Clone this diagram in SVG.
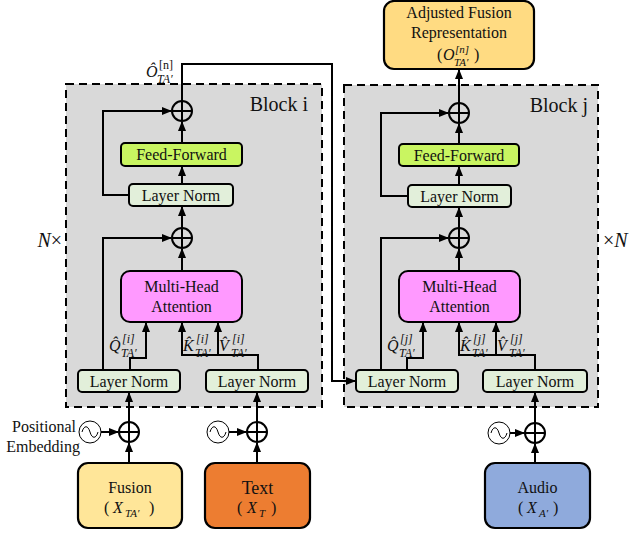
<svg xmlns="http://www.w3.org/2000/svg" width="634" height="535" viewBox="0 0 634 535" font-family="'Liberation Serif', 'DejaVu Serif', serif">
<defs>
<marker id="ah" markerUnits="userSpaceOnUse" markerWidth="10" markerHeight="8" refX="9" refY="4" orient="auto">
<path d="M0,0 L10,4 L0,8 Z" fill="#000"/>
</marker>
<g id="sine"><circle cx="0" cy="0" r="11" fill="#fff" stroke="#000" stroke-width="1"/><path d="M-8,0 C-6,-7 -2,-7 0,0 C2,7 6,7 8,0" fill="none" stroke="#000" stroke-width="1"/></g>
<g id="plus"><circle cx="0" cy="0" r="10" fill="none" stroke="#000" stroke-width="2"/><path d="M-10,0 H10 M0,-10 V10" stroke="#000" stroke-width="2"/></g>
</defs>
<style>
text{font-family:'Liberation Serif','DejaVu Serif',serif;fill:#111;}
.blk{fill:#d9d9d9;stroke:#000;stroke-width:2;stroke-dasharray:8 5;}
.ln{fill:#e2efda;stroke:#000;stroke-width:2;}
.ff{fill:#c9f561;stroke:#000;stroke-width:2;}
.mha{fill:#ff99ff;stroke:#000;stroke-width:2;}
.box{stroke:#000;stroke-width:2.2;}
.c{stroke:#000;stroke-width:2;fill:none;}
.a{marker-end:url(#ah);}
.t14{font-size:16px;text-anchor:middle;}
.t15{font-size:16px;text-anchor:middle;}
.m{font-style:italic;}
</style>

<!-- blocks -->
<g id="blockI"><rect class="blk" x="66" y="84" width="256" height="323"/><text x="308" y="111" font-size="20" text-anchor="end">Block i</text></g>
<g id="blockJ"><rect class="blk" x="344" y="85" width="254" height="322"/><text x="588" y="112" font-size="20" text-anchor="end">Block j</text></g>
<text x="62" y="247" font-size="20" text-anchor="end"><tspan font-style="italic">N</tspan>×</text>
<text x="603" y="247" font-size="20">×<tspan font-style="italic">N</tspan></text>

<!-- connectors -->
<g id="connectors">
<path class="c a" d="M182,184 V167"/>
<path class="c a" d="M182,143 V122"/>
<path class="c a" d="M129,195 H103 V111 H171"/>
<path class="c a" d="M182,271 V249"/>
<path class="c a" d="M182,228 V207"/>
<path class="c a" d="M103,370 V238 H171"/>
<path class="c a" d="M130,370 V358 H146 V323"/>
<path class="c a" d="M258,370 V355 H182 V323"/>
<path class="c a" d="M218,355 V323"/>
<path class="c a" d="M129,463 V443"/>
<path class="c a" d="M129,422 V393"/>
<path class="c a" d="M101,432 H118"/>
<path class="c a" d="M257,463 V443"/>
<path class="c a" d="M257,422 V393"/>
<path class="c a" d="M229,432 H246"/>
<path class="c a" d="M182,101 V64 H332 V381 H355"/>

<path class="c a" d="M459,103 V70"/>
<path class="c a" d="M459,144 V124"/>
<path class="c a" d="M459,185 V167"/>
<path class="c a" d="M408,196 H381 V113 H448"/>
<path class="c a" d="M459,271 V249"/>
<path class="c a" d="M459,228 V208"/>
<path class="c a" d="M381,370 V238 H448"/>
<path class="c a" d="M407,370 V358 H423 V323"/>
<path class="c a" d="M535,370 V355 H459 V323"/>
<path class="c a" d="M496,355 V323"/>
<path class="c a" d="M535,463 V444"/>
<path class="c a" d="M535,423 V393"/>
<path class="c a" d="M510,433 H524"/>
</g>

<!-- block i nodes -->
<g id="addI1"><use href="#plus" x="182" y="111"/></g>
<g id="ffI"><rect class="ff" x="121" y="143" width="121" height="23" rx="4"/><text class="t14" x="181.5" y="160">Feed-Forward</text></g>
<g id="lnI1"><rect class="ln" x="129" y="184" width="104" height="22" rx="4"/><text class="t14" x="181" y="200.5">Layer Norm</text></g>
<g id="addI2"><use href="#plus" x="182" y="238"/></g>
<g id="mhaI"><rect class="mha" x="121" y="271" width="121" height="51" rx="9"/><text class="t15" x="181.5" y="292">Multi-Head</text><text class="t15" x="181.5" y="312">Attention</text></g>
<g id="lnI2"><rect class="ln" x="78" y="370" width="102" height="22" rx="4"/><text class="t14" x="129" y="386.5">Layer Norm</text></g>
<g id="lnI3"><rect class="ln" x="206" y="370" width="102" height="22" rx="4"/><text class="t14" x="257" y="386.5">Layer Norm</text></g>
<g id="labI">
<text x="109" y="351" font-size="16" class="m">Q̂</text><text x="122" y="343" font-size="12" class="m">[i]</text><text x="121" y="357" font-size="12" class="m">TA′</text>
<text x="183" y="351" font-size="16" class="m">K̂</text><text x="196" y="343" font-size="12" class="m">[i]</text><text x="195" y="357" font-size="12" class="m">TA′</text>
<text x="219" y="351" font-size="16" class="m">V̂</text><text x="232" y="343" font-size="12" class="m">[i]</text><text x="231" y="357" font-size="12" class="m">TA′</text>
<text x="146" y="77" font-size="16" class="m">Ô</text><text x="159" y="69" font-size="12">[n]</text><text x="157" y="83" font-size="12" class="m">TA′</text>
</g>

<!-- block j nodes -->
<g id="addJ1"><use href="#plus" x="459" y="113"/></g>
<g id="ffJ"><rect class="ff" x="399" y="144" width="120" height="22" rx="4"/><text class="t14" x="459" y="160.5">Feed-Forward</text></g>
<g id="lnJ1"><rect class="ln" x="408" y="185" width="103" height="22" rx="4"/><text class="t14" x="459.5" y="201.5">Layer Norm</text></g>
<g id="addJ2"><use href="#plus" x="459" y="238"/></g>
<g id="mhaJ"><rect class="mha" x="399" y="271" width="121" height="51" rx="9"/><text class="t15" x="459.5" y="292">Multi-Head</text><text class="t15" x="459.5" y="312">Attention</text></g>
<g id="lnJ2"><rect class="ln" x="356" y="370" width="102" height="22" rx="4"/><text class="t14" x="407" y="386.5">Layer Norm</text></g>
<g id="lnJ3"><rect class="ln" x="483" y="370" width="104" height="22" rx="4"/><text class="t14" x="535" y="386.5">Layer Norm</text></g>
<g id="labJ">
<text x="387" y="351" font-size="16" class="m">Q̂</text><text x="400" y="343" font-size="12" class="m">[j]</text><text x="399" y="357" font-size="12" class="m">TA′</text>
<text x="460" y="351" font-size="16" class="m">K̂</text><text x="473" y="343" font-size="12" class="m">[j]</text><text x="472" y="357" font-size="12" class="m">TA′</text>
<text x="497" y="351" font-size="16" class="m">V̂</text><text x="510" y="343" font-size="12" class="m">[j]</text><text x="509" y="357" font-size="12" class="m">TA′</text>
</g>

<!-- output -->
<g id="adjusted"><rect class="box" x="384" y="1" width="150" height="68" rx="10" fill="#ffdb82"/>
<text class="t14" x="459" y="18">Adjusted Fusion</text><text class="t14" x="459" y="38">Representation</text>
<text x="437" y="60" font-size="16">(</text><text x="443" y="60" font-size="16" class="m">O</text><text x="455" y="53" font-size="11" class="m">[n]</text><text x="454" y="66" font-size="11" class="m">TA′</text><text x="474" y="60" font-size="16">)</text></g>

<!-- inputs -->
<g id="posI"><use href="#sine" x="90" y="432"/><use href="#plus" x="129" y="432"/>
<text x="76" y="432" font-size="16" text-anchor="end">Positional</text><text x="80" y="452" font-size="16" text-anchor="end">Embedding</text></g>
<g id="posT"><use href="#sine" x="218" y="432"/><use href="#plus" x="257" y="432"/></g>
<g id="posA"><use href="#sine" x="499" y="433"/><use href="#plus" x="535" y="433"/></g>
<g id="fusion"><rect class="box" x="78" y="463" width="104" height="65" rx="10" fill="#ffe699"/>
<text class="t15" x="130" y="493">Fusion</text>
<text x="104" y="513" font-size="16">(</text><text x="113" y="513" font-size="16" class="m">X</text><text x="125" y="517" font-size="11" class="m">TA′</text><text x="149" y="513" font-size="16">)</text></g>
<g id="text"><rect class="box" x="205" y="463" width="105" height="65" rx="10" fill="#ed7d31"/>
<text x="257.5" y="494" font-size="18" text-anchor="middle">Text</text>
<text x="237" y="513" font-size="16">(</text><text x="247" y="513" font-size="16" class="m">X</text><text x="259" y="517" font-size="11" class="m">T</text><text x="271" y="513" font-size="16">)</text></g>
<g id="audio"><rect class="box" x="485" y="463" width="105" height="65" rx="10" fill="#8faadc"/>
<text class="t15" x="537.5" y="493">Audio</text>
<text x="518" y="513" font-size="16">(</text><text x="527" y="513" font-size="16" class="m">X</text><text x="539" y="517" font-size="11" class="m">A′</text><text x="553" y="513" font-size="16">)</text></g>
</svg>
